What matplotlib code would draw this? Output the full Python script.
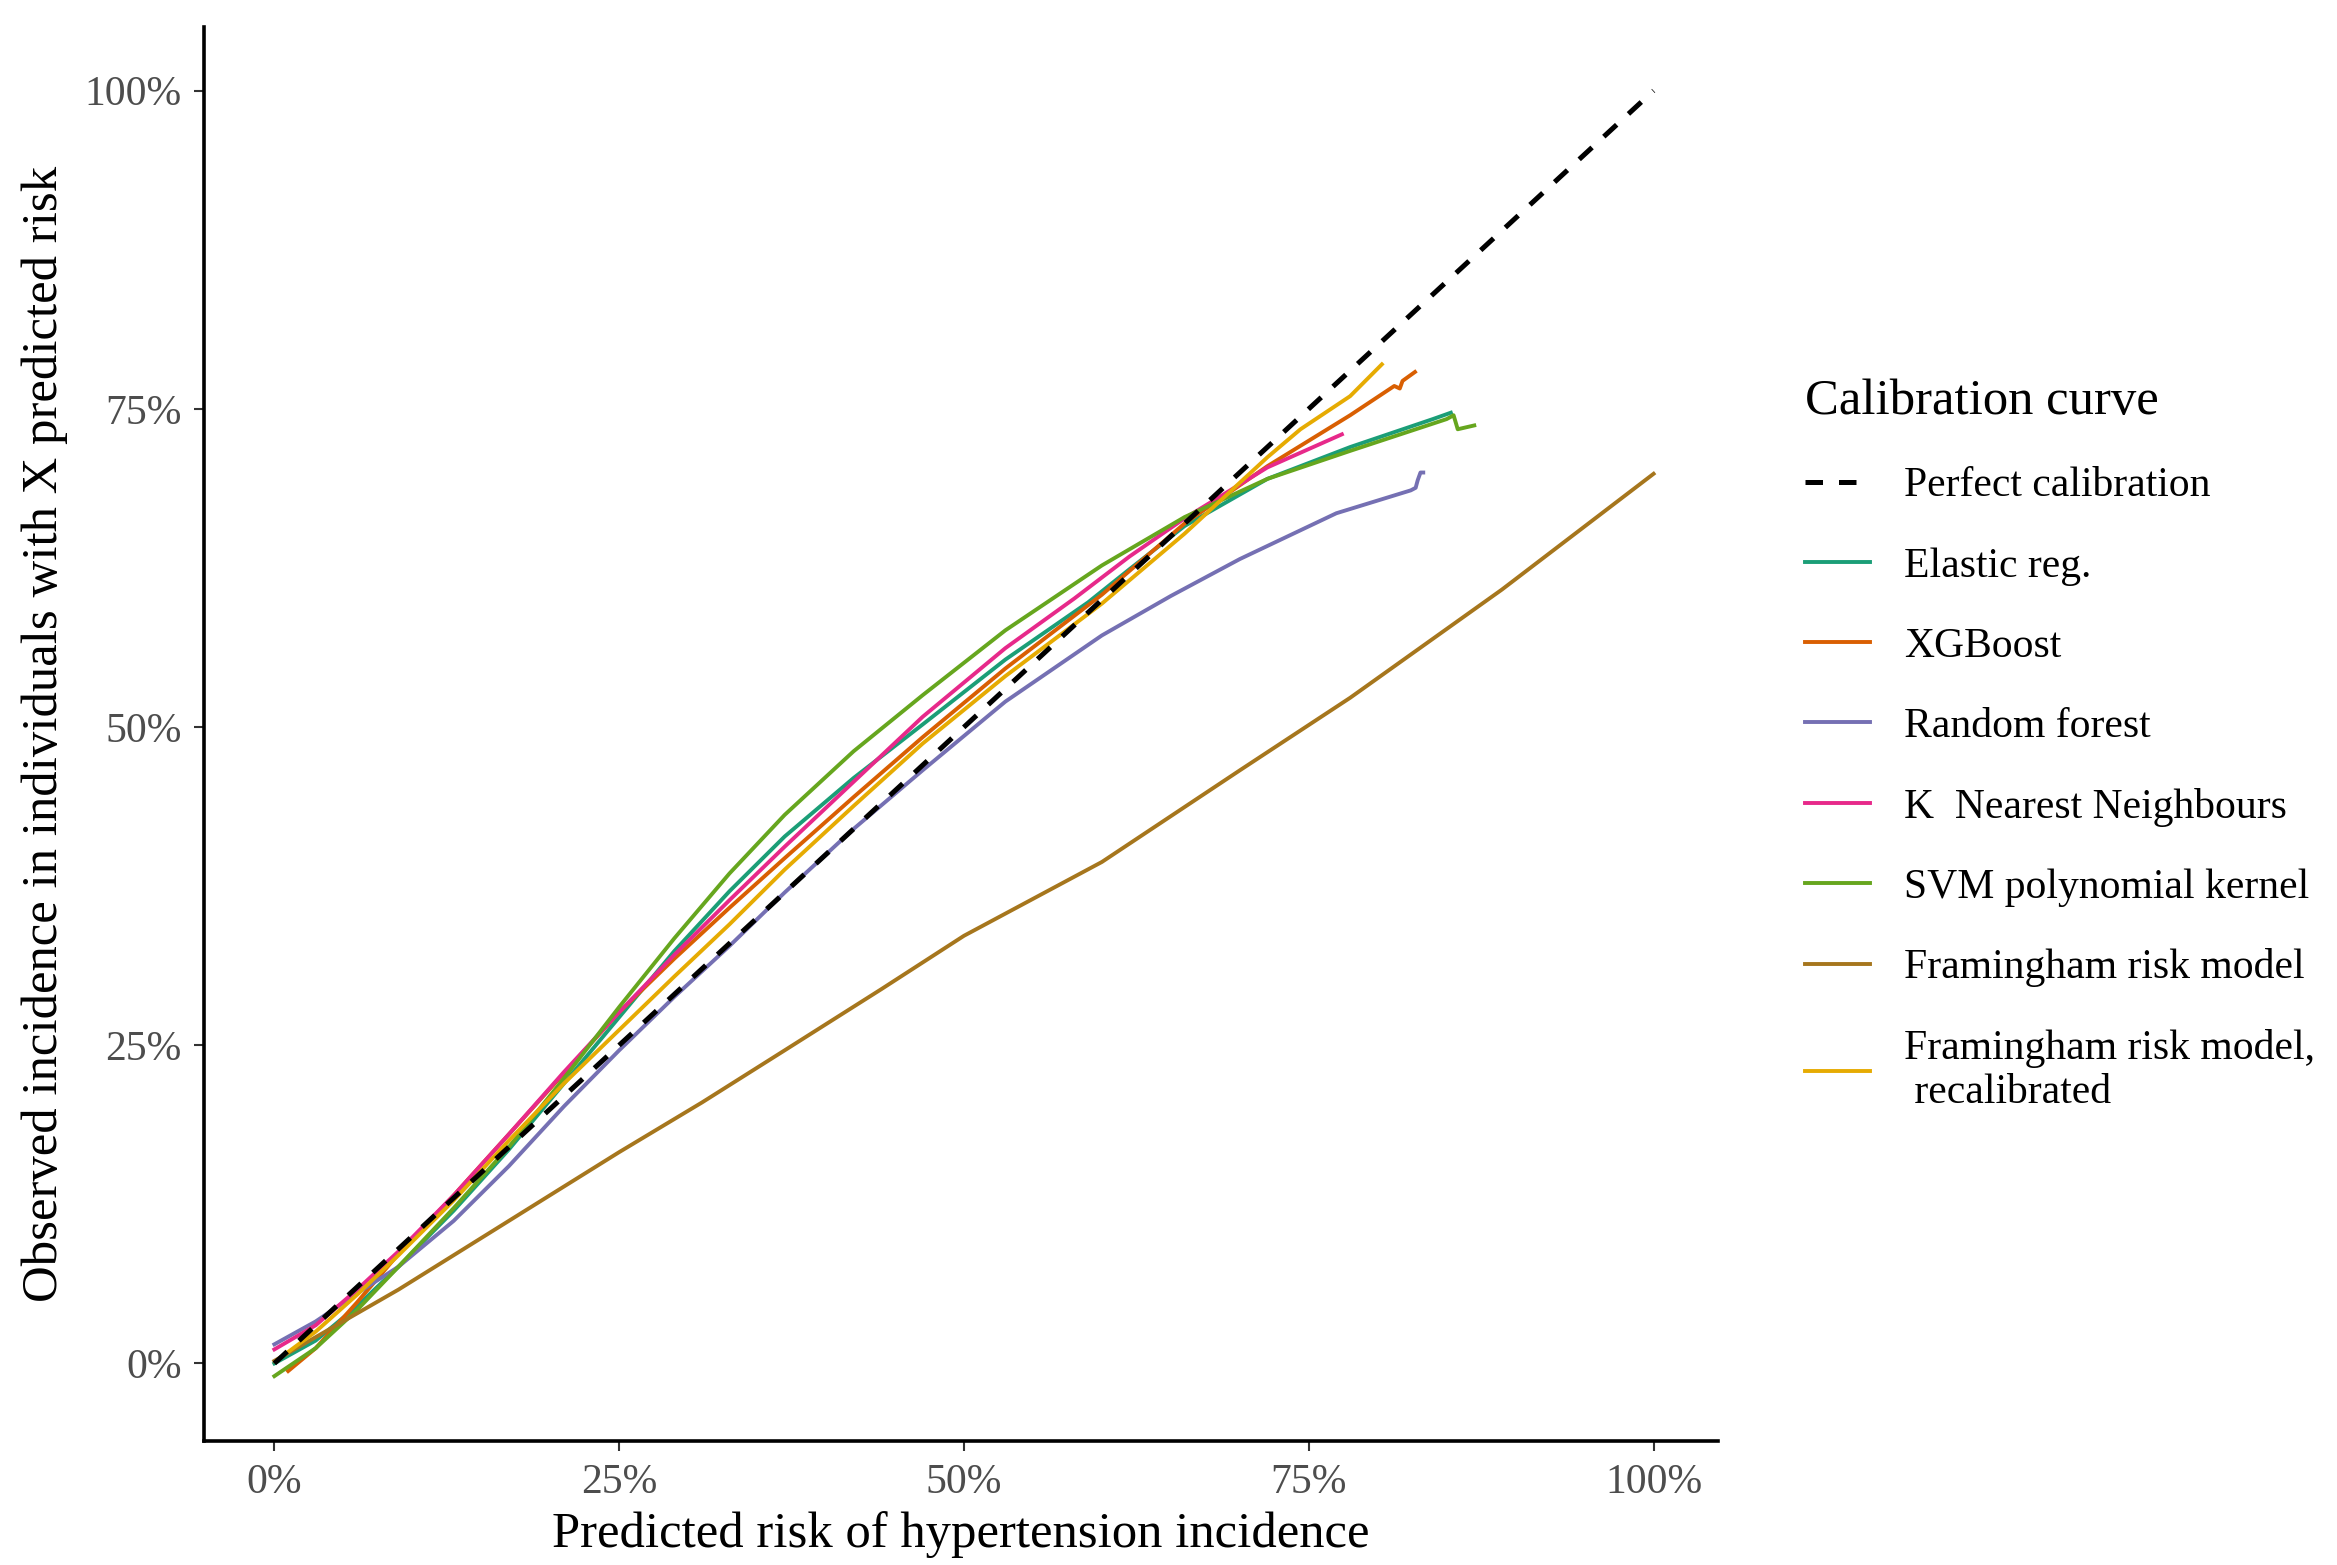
import numpy as np
import matplotlib.pyplot as plt
from matplotlib.ticker import PercentFormatter

plt.rcParams['font.family'] = ['Liberation Serif', 'DejaVu Serif']

# calibration curves (predicted risk, observed incidence)
perfect_x = [0.0, 1.0]
perfect_y = [0.0, 1.0]

elastic_x = [0.0, 0.03, 0.06, 0.09, 0.13, 0.17, 0.21, 0.25, 0.29, 0.33, 0.37, 0.42, 0.47, 0.53,
             0.59, 0.62, 0.66, 0.72, 0.78, 0.84, 0.853]
elastic_y = [0.0, 0.018, 0.045, 0.076, 0.120, 0.168, 0.220, 0.272, 0.324, 0.371, 0.414, 0.460, 0.502, 0.553,
             0.598, 0.624, 0.658, 0.695, 0.720, 0.742, 0.747]

xgb_x = [0.01, 0.03, 0.06, 0.09, 0.13, 0.17, 0.21, 0.25, 0.29, 0.33, 0.37, 0.42, 0.47, 0.53,
         0.60, 0.66, 0.72, 0.78, 0.812, 0.816, 0.818, 0.827]
xgb_y = [-0.006, 0.012, 0.048, 0.086, 0.132, 0.180, 0.228, 0.276, 0.318, 0.358, 0.397, 0.445, 0.492, 0.546,
         0.604, 0.660, 0.705, 0.745, 0.768, 0.766, 0.772, 0.779]

rf_x = [0.0, 0.03, 0.06, 0.09, 0.13, 0.17, 0.21, 0.25, 0.29, 0.33, 0.37, 0.42, 0.47, 0.53,
        0.60, 0.65, 0.70, 0.77, 0.824, 0.8275, 0.829, 0.831, 0.833]
rf_y = [0.015, 0.033, 0.055, 0.076, 0.112, 0.155, 0.202, 0.246, 0.288, 0.328, 0.370, 0.420, 0.466, 0.520,
        0.572, 0.603, 0.632, 0.668, 0.686, 0.688, 0.694, 0.700, 0.700]

knn_x = [0.0, 0.03, 0.06, 0.09, 0.13, 0.17, 0.21, 0.25, 0.29, 0.33, 0.37, 0.42, 0.47, 0.53,
         0.58, 0.62, 0.66, 0.72, 0.774]
knn_y = [0.011, 0.030, 0.058, 0.088, 0.132, 0.180, 0.229, 0.276, 0.321, 0.364, 0.406, 0.457, 0.508, 0.562,
         0.601, 0.634, 0.664, 0.704, 0.730]

svm_x = [0.0, 0.03, 0.06, 0.09, 0.13, 0.17, 0.21, 0.25, 0.29, 0.33, 0.37, 0.42, 0.47, 0.53,
         0.60, 0.66, 0.72, 0.78, 0.85, 0.855, 0.858, 0.870]
svm_y = [-0.010, 0.012, 0.042, 0.076, 0.122, 0.170, 0.224, 0.280, 0.334, 0.385, 0.431, 0.481, 0.525, 0.576,
         0.627, 0.665, 0.695, 0.717, 0.742, 0.745, 0.734, 0.737]

fram_x = [0.0, 0.09, 0.17, 0.25, 0.31, 0.37, 0.44, 0.5, 0.6, 0.7, 0.78, 0.89, 1.0]
fram_y = [0.002, 0.058, 0.112, 0.166, 0.205, 0.246, 0.294, 0.336, 0.394, 0.466, 0.523, 0.608, 0.699]

framrc_x = [0.005, 0.03, 0.06, 0.09, 0.13, 0.17, 0.21, 0.25, 0.29, 0.33, 0.37, 0.42, 0.47, 0.53,
            0.60, 0.66, 0.72, 0.744, 0.78, 0.803]
framrc_y = [0.005, 0.025, 0.054, 0.085, 0.128, 0.175, 0.220, 0.262, 0.304, 0.345, 0.388, 0.438, 0.487, 0.540,
            0.597, 0.652, 0.712, 0.734, 0.760, 0.785]

curves = [
    ('Elastic reg.', elastic_x, elastic_y, '#1B9E77'),
    ('XGBoost', xgb_x, xgb_y, '#D95F02'),
    ('Random forest', rf_x, rf_y, '#7570B3'),
    ('K  Nearest Neighbours', knn_x, knn_y, '#E7298A'),
    ('SVM polynomial kernel', svm_x, svm_y, '#66A61E'),
    ('Framingham risk model', fram_x, fram_y, '#A6761D'),
    ('Framingham risk model,\n recalibrated', framrc_x, framrc_y, '#E6AB02'),
]

fig = plt.figure(figsize=(23.37, 15.65), dpi=100)
ax = fig.add_axes([0.0873, 0.0792, 0.648, 0.9035])

ax.plot(perfect_x, perfect_y, color='black', lw=3.6, ls=(0, (3.5, 3.2)),
        label='Perfect calibration', zorder=3)
for name, xs, ys, col in curves:
    ax.plot(xs, ys, color=col, lw=2.8, label=name)

ax.set_xlim(-0.051, 1.047)
ax.set_ylim(-0.061, 1.050)
ticks = [0, 0.25, 0.5, 0.75, 1.0]
ax.set_xticks(ticks)
ax.set_yticks(ticks)
ax.xaxis.set_major_formatter(PercentFormatter(1.0, decimals=0))
ax.yaxis.set_major_formatter(PercentFormatter(1.0, decimals=0))
ax.tick_params(labelsize=30, labelcolor='#4D4D4D', color='#333333',
               length=7, width=1.5, pad=9)

for s in ['top', 'right']:
    ax.spines[s].set_visible(False)
for s in ['left', 'bottom']:
    ax.spines[s].set_linewidth(2.6)

ax.set_xlabel('Predicted risk of hypertension incidence', fontsize=36.5, labelpad=7)
ax.set_ylabel('Observed incidence in individuals with X predicted risk', fontsize=36.5, labelpad=12)

leg = ax.legend(loc='upper left', bbox_to_anchor=(0.7565, 0.782),
                bbox_transform=fig.transFigure, frameon=False,
                title='Calibration curve', title_fontsize=36.5, fontsize=30,
                handlelength=1.55, handletextpad=0.82, labelspacing=1.0,
                alignment='left')

fig.savefig('out.png', dpi=100)
